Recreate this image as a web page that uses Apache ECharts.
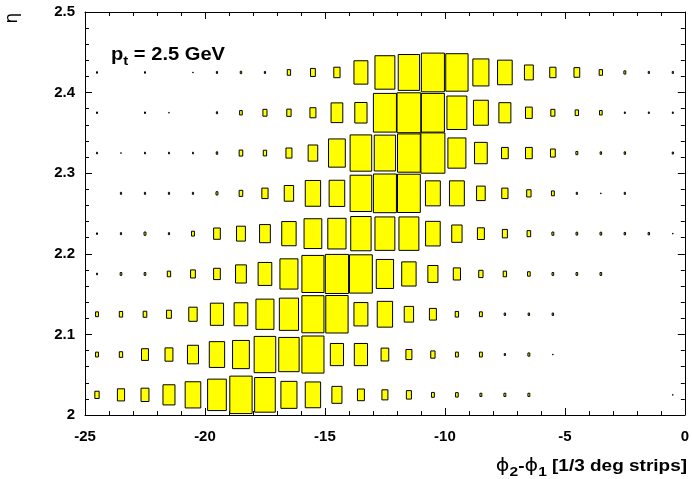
<!DOCTYPE html>
<html><head><meta charset="utf-8">
<script src="https://cdn.jsdelivr.net/npm/echarts@6/dist/echarts.min.js"></script>
<style>html,body{margin:0;padding:0;background:#fff}#c{width:692px;height:479px}</style>
</head><body><div id="c"></div>
<script>
// bin centres
const phiCenters = [-24.5,-23.5,-22.5,-21.5,-20.5,-19.5,-18.5,-17.5,-16.5,-15.5,-14.5,-13.5,-12.5,-11.5,-10.5,-9.5,-8.5,-7.5,-6.5,-5.5,-4.5,-3.5,-2.5,-1.5,-0.5];
const etaCenters = [2.025,2.075,2.125,2.175,2.225,2.275,2.325,2.375,2.425];
// bin contents (relative, max = 100), one array per eta row, phi from -24.5 to -0.5
const row_2_025 = [18,30,33,50,65,78,93,86,67,64,42,29,25,21,12,11,8,8,8,0,0,0,0,0,2];
const row_2_075 = [12,14,29,33,46,64,70,90,85,92,55,55,32,25,18,12,12,5,8,2,0,0,0,0,0];
const row_2_125 = [12,14,15,20,35,55,57,75,80,92,93,58,64,39,29,14,12,6,6,6,0,0,0,0,0];
const row_2_175 = [4,7,7,14,20,28,45,57,75,92,97,95,72,60,42,30,18,14,11,7,7,7,0,0,0];
const row_2_225 = [4,5,8,5,12,28,37,45,60,74,76,85,83,83,61,43,29,21,15,8,7,7,6,6,2];
const row_2_275 = [0,5,5,5,5,8,15,26,39,64,65,90,96,95,62,62,36,26,18,12,5,2,5,0,0];
const row_2_325 = [4,2,4,4,4,6,15,14,25,40,70,90,89,95,100,75,53,28,28,20,8,6,6,0,5];
const row_2_375 = [4,0,4,2,0,5,11,17,18,25,49,51,96,99,96,83,62,50,28,17,14,11,4,4,4];
const row_2_425 = [4,0,4,0,2,5,6,5,14,20,26,58,83,89,96,93,67,61,37,26,24,14,8,5,5];
const rows = [row_2_025,row_2_075,row_2_125,row_2_175,row_2_225,row_2_275,row_2_325,row_2_375,row_2_425];
const VMAX = 100;
const xBinWidth = 1, yBinWidth = 0.05;

const data = [];
rows.forEach((r, i) => r.forEach((v, j) => { if (v > 0) data.push([phiCenters[j], etaCenters[i], v]); }));

const FONT = "'Liberation Sans', Arial, Helvetica, sans-serif";
const chart = echarts.init(document.getElementById('c'), null, {renderer: 'canvas'});

function axisCommon(extra) {
  return Object.assign({
    type: 'value',
    axisLine: {show: true, onZero: false, lineStyle: {color: '#000', width: 1}},
    axisTick: {show: true, inside: true, length: 7, lineStyle: {color: '#000', width: 1}},
    minorTick: {show: true, splitNumber: 5, length: 4, lineStyle: {color: '#000', width: 1}},
    splitLine: {show: false},
    minorSplitLine: {show: false}
  }, extra);
}

chart.setOption({
  animation: false,
  backgroundColor: '#fff',
  grid: {left: 85, right: 6, top: 12, bottom: 64, containLabel: false},
  xAxis: [
    axisCommon({min: -25, max: 0, interval: 5, position: 'bottom',
      axisLabel: {show: true, margin: 14, color: '#000', fontFamily: FONT, fontWeight: 'bold', fontSize: 15}}),
    axisCommon({min: -25, max: 0, interval: 5, position: 'top', axisLabel: {show: false}})
  ],
  yAxis: [
    axisCommon({min: 2, max: 2.5, interval: 0.1, position: 'left',
      axisLabel: {show: true, margin: 10, color: '#000', fontFamily: FONT, fontWeight: 'bold', fontSize: 15}}),
    axisCommon({min: 2, max: 2.5, interval: 0.1, position: 'right', axisLabel: {show: false}})
  ],
  series: [{
    type: 'custom',
    xAxisIndex: 0, yAxisIndex: 0,
    data: data,
    renderItem: function (params, api) {
      const c = api.coord([api.value(0), api.value(1)]);
      const s = api.size([xBinWidth, yBinWidth]);
      const f = api.value(2) / VMAX;
      const w = s[0] * f, h = s[1] * f;
      return {type: 'rect', shape: {x: c[0] - w / 2, y: c[1] - h / 2, width: w, height: h},
        style: {fill: '#ffff00', stroke: '#000', lineWidth: 1}};
    }
  }],
  graphic: [
    {type: 'text', x: 111, y: 55, scaleX: 1.15,
      style: {text: '{b|p}{s|t}{b| = 2.5 GeV}', align: 'left', verticalAlign: 'middle',
        rich: {
          b: {fontFamily: FONT, fontWeight: 'bold', fontSize: 17.5, lineHeight: 26, verticalAlign: 'middle', fill: '#000'},
          s: {fontFamily: FONT, fontWeight: 'bold', fontSize: 13, lineHeight: 13, verticalAlign: 'bottom', fill: '#000'}
        }}},
    {type: 'text', x: 687, y: 466, scaleX: 1.15,
      style: {text: '{p|\u03D5}{s|2}{b|-}{p|\u03D5}{s|1}{b| [1/3 deg strips]}', align: 'right', verticalAlign: 'middle',
        rich: {
          b: {fontFamily: FONT, fontWeight: 'bold', fontSize: 16.5, lineHeight: 26, verticalAlign: 'middle', fill: '#000'},
          p: {fontFamily: "'DejaVu Sans', sans-serif", fontSize: 18, lineHeight: 26, verticalAlign: 'middle', fill: '#000'},
          s: {fontFamily: FONT, fontWeight: 'bold', fontSize: 13.5, lineHeight: 13, verticalAlign: 'bottom', fill: '#000'}
        }}},
    {type: 'text', x: 13, y: 18, rotation: Math.PI / 2,
      style: {text: '\u03B7', align: 'center', verticalAlign: 'middle', fontFamily: "'DejaVu Sans', sans-serif", fontSize: 17, fill: '#000'}}
  ]
});
</script>
</body></html>
